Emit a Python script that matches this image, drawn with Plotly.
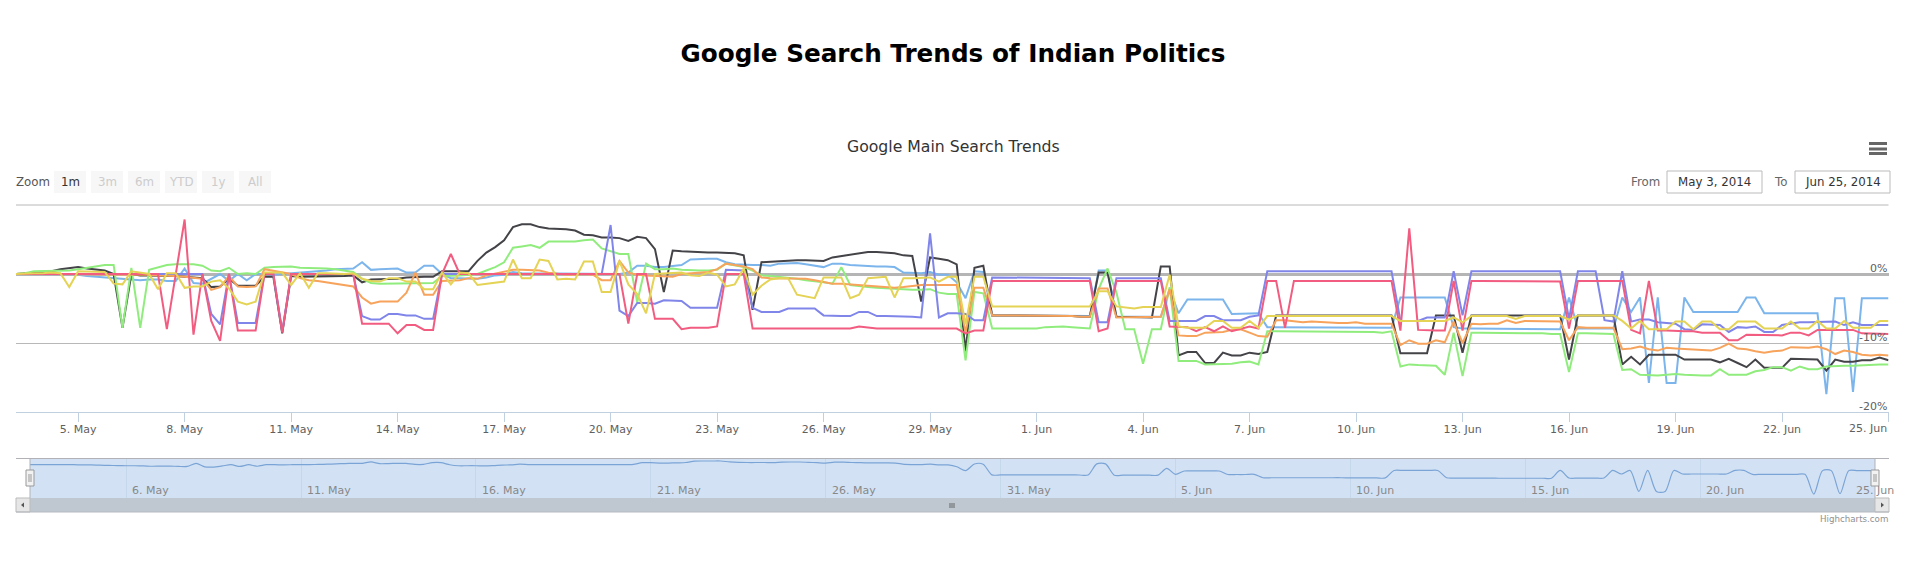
import pandas as pd
import plotly.graph_objects as go

W = 1906
H = 564
FONT = "DejaVu Sans"

dates = pd.date_range("2014-05-03 06:00", "2014-06-25 00:00", freq="6h")

# values are % change, one point every 6 hours
light_blue = [
    0, 0, 0, 0, 0, 0, -0.1, -0.1, -0.3, -0.4,
    -0.5, -0.6, -0.6, -0.7, -0.9, -0.8, -0.8, -1, -1, 0.8,
    -1.3, -1.4, -0.7, 0, -1, 0, -0.9, 0, 0, -0.1,
    0, 0.1, 0.1, 0.2, 0.3, 0.5, 0.7, 0.8, 0.8, 1.7,
    0.6, 0.7, 0.8, 0.8, 0.2, 0.2, 1.2, 1.2, 0, -0.6,
    -0.6, -0.6, -0.7, -0.5, -0.2, -0.1, 0.3, 0.1, 0.1, 0.1,
    0.1, 0.1, 0.1, 0.1, 0.1, 0.1, 0.1, 0.1, 0, 0.2,
    1.2, 1.2, 1, 1, 1.1, 1.3, 2.1, 2.2, 2.2, 2.2,
    1.7, 1.4, 1.3, 1.3, 1.3, 1.2, 1.5, 1.6, 1.6, 1.4,
    1.2, 1, 1.5, 1.5, 1.3, 1.2, 1.1, 1.1, 1.1, 1,
    0.2, 0.1, 0.1, 0.3, -0.1, -0.1, -1.2, -3.5, 0.4, 0.3,
    -6, -6, -6, -6, -6, -6, -6, -6, -6, -6,
    -6.1, -6.1, 0.5, 0.5, -6.2, -6.2, -6.2, -6.2, -6.2, -6.2,
    -2.2, -5.7, -3.7, -3.7, -3.7, -3.7, -3.7, -5.8, -5.8, -5.8,
    -5.7, -7.7, -7.7, -7.7, -7.7, -7.7, -7.7, -7.7, -7.7, -7.7,
    -7.7, -7.8, -7.8, -7.8, -7.8, -7.8, -3.4, -3.4, -3.4, -3.4,
    -3.4, -3.4, -7.7, -7.9, -7.9, -7.9, -7.9, -7.9, -8, -8,
    -8, -8, -8, -8, -8, -3.4, -7.9, -7.9, -7.9, -7.9,
    -7.9, -3.4, -5.5, -3.4, -15.8, -3.4, -15.8, -15.8, -3.4, -5.5,
    -5.5, -5.5, -5.5, -5.5, -5.5, -3.4, -3.4, -5.7, -5.7, -5.7,
    -5.7, -5.7, -5.7, -5.7, -17.4, -3.5, -3.5, -17.1, -3.5, -3.5,
    -3.5, -3.5,
]

black = [
    0, 0.1, 0.3, 0.4, 0.4, 0.7, 0.8, 1, 0.8, 0.6,
    0.5, 0, -7.8, 0, -0.2, -0.2, -0.3, -0.3, -0.3, -0.4,
    -0.5, -0.6, -1.9, -1.8, -0.7, -1.7, -1.7, -1.7, -0.4, -0.4,
    -8.6, -0.3, -0.4, -0.4, -0.4, -0.4, -0.4, -0.3, -0.2, -1.2,
    -0.8, -0.8, -0.8, -0.7, -0.5, -0.4, -0.4, -0.4, 0.4, 0.4,
    0.4, 0.4, 1.9, 3.1, 3.9, 4.9, 6.8, 7.2, 7.2, 6.8,
    6.6, 6.6, 6.5, 6.3, 5.7, 5.6, 5.3, 5.3, 5.2, 4.8,
    5.4, 5.2, 3.6, -2.6, 3.4, 3.3, 3.2, 3.2, 3.1, 3.1,
    3.1, 3, 2.7, -5.2, 1.7, 1.8, 1.9, 1.9, 2, 2,
    2, 1.9, 2.4, 2.6, 2.8, 3, 3.2, 3.2, 3.1, 3,
    2.7, 2.6, -4, 2.4, 2.2, 2, 1.4, -11.2, 0.9, 1.2,
    -6, -6, -6, -6, -6, -6, -6.1, -6.1, -6.1, -6.1,
    -6.2, -6.2, 0.2, 0.2, -6.2, -6.2, -6.2, -6.3, -6.3, 1.1,
    1.1, -11.8, -11.3, -11.3, -12.9, -12.9, -11.4, -11.8, -11.8, -11.4,
    -11.6, -11.3, -6, -6, -6, -6, -6, -6, -6, -6,
    -6, -6, -6, -6, -6, -6, -11.5, -11.5, -11.5, -11.5,
    -6, -6, -6, -11.4, -6, -6, -6, -6, -6, -6,
    -6, -6, -6, -6, -6, -12.4, -6, -6, -6, -6,
    -6, -13.1, -12, -13.1, -11.7, -11.7, -11.7, -11.7, -12.4, -12.4,
    -12.4, -12.4, -12.8, -12.3, -12.9, -13.5, -12.4, -13.6, -13.6, -13.6,
    -12.3, -12.3, -12.3, -12.4, -14, -12.4, -12.7, -12.7, -12.5, -12.5,
    -12.1, -12.5,
]

green = [
    0, 0.1, 0.4, 0.4, 0.4, 0.4, 0.5, 0.7, 0.9, 1.1,
    1.3, 1.3, -7.8, 0.9, -7.8, 0.6, 1, 1.3, 1.4, 1.4,
    1.4, 1.2, 0.5, 0.4, 0.9, 0, 0.1, 0, 0.9, 1,
    1.1, 1.1, 0.9, 0.9, 0.8, 0.8, 0.7, 0.5, 0.3, -0.7,
    -1.3, -1.4, -1.4, -1.4, -1.3, -1.3, -1.3, -1.3, -0.3, -0.3,
    -0.2, -0.1, 0, 0.5, 1, 1.7, 3.8, 4, 4.2, 3.8,
    4.7, 4.7, 4.7, 4.7, 4.9, 5, 3.7, 3.3, 2.9, 2.9,
    -4.1, 1.5, 0.7, 0.7, 0.8, 0.6, 0.5, 0.5, 0.5, 0.6,
    1.5, 1.3, 1, 0.5, -0.2, -0.3, -0.4, -0.5, -0.7, -0.9,
    -1, -1.2, -1.4, 1, -1.6, -1.8, -1.9, -2, -2.1, -2.2,
    -2.2, -2.3, -2.3, -2.2, -2.7, -2.9, -2.9, -12.5, -2.6, -2.8,
    -7.9, -7.9, -7.9, -7.9, -7.9, -7.9, -7.7, -7.6, -7.6, -7.7,
    -7.8, -7.9, -2.2, 0.8, -2.7, -8, -8, -13, -8, -8,
    -1.9, -12.6, -12.6, -12.6, -13.1, -13.1, -13.1, -13, -12.8, -12.7,
    -13.1, -8.3, -8.3, -8.3, -8.3, -8.3, -8.3, -8.4, -8.4, -8.4,
    -8.4, -8.4, -8.4, -8.4, -8.5, -8.3, -13.4, -13.1, -13.2, -13.3,
    -13.3, -14.6, -8.5, -14.8, -8.5, -8.5, -8.5, -8.5, -8.6, -8.6,
    -8.6, -8.6, -8.6, -8.7, -8.7, -14.2, -8.6, -8.6, -8.6, -8.6,
    -8.7, -13.9, -13.8, -14.6, -14.7, -14.7, -14.6, -14.5, -14.6, -14.7,
    -14.7, -14.7, -13.8, -14.6, -14.6, -14.6, -14.1, -13.9, -13.5, -13.5,
    -14, -13.4, -13.8, -13.8, -13.4, -13.3, -13.3, -13.3, -13.2, -13.1,
    -13.1, -13.1,
]

orange = [
    0, 0, 0, 0, 0, 0, 0, -0.1, -0.1, -0.1,
    -0.1, -0.1, -0.1, -0.1, -0.1, -0.1, -0.2, -0.2, -0.3, -0.4,
    -0.6, -0.7, -2.3, -1.9, -0.3, -1.8, -1.9, -1.8, 0.7, 0.5,
    0.2, 0, -0.6, -0.9, -1, -1.2, -1.4, -1.5, -1.8, -3.4,
    -4.3, -4, -4, -4, -2.7, 0.2, -3, -3, -1, -1,
    -0.9, -0.6, -0.7, -0.2, 0.1, 0.4, 0.6, 0.6, 0.6, 0.5,
    0.2, 0, -0.1, -0.1, 0, -0.1, -0.9, -0.9, 1.9, 0.2,
    -0.1, -0.2, -0.3, -0.4, -0.4, 0, 0.1, 0.1, 0.3, 0.7,
    1.5, 1.3, 1.1, 0.7, -0.5, -0.6, -0.6, -0.6, -0.6, -0.7,
    -0.9, -1.1, -1.4, -1.4, -1.5, -1.6, -1.8, -1.9, -1.9, -2,
    -1.9, -1.7, -1.6, -1.6, -1.6, -1.6, -1.6, -8.5, -2, -2,
    -6, -6, -6, -6, -6, -6, -6, -6, -6, -6.1,
    -6.2, -6.2, -2.1, -2.1, -6.3, -6.3, -6.3, -6.3, -6.2, -6.2,
    -2.2, -8.9, -9, -9, -8.5, -8.5, -8.4, -8.1, -8, -8.5,
    -9, -9.1, -6.7, -6.7, -6.9, -7, -6.9, -7, -7, -7.1,
    -7.1, -7, -7.2, -7.2, -7.2, -7.2, -10.3, -9.6, -10.1, -10.1,
    -9.6, -9.9, -6.9, -10, -7.2, -7.3, -7.2, -7.2, -6.7, -7.1,
    -6.8, -6.8, -6.8, -6.9, -6.9, -9.6, -7.7, -7.8, -7.8, -7.8,
    -7.8, -10.9, -10.8, -10.5, -10.9, -11.1, -10.7, -10.8, -10.9, -11,
    -11.1, -11.1, -10.7, -10.1, -10.8, -10.9, -11.2, -11.4, -11.2, -11.1,
    -10.6, -10.7, -10.7, -10.5, -10.9, -11.6, -11.1, -11.3, -11.7, -11.8,
    -11.7, -11.8,
]

purple = [
    0, 0, 0, 0, 0, 0, 0, 0, 0, 0,
    0, 0, 0, 0, 0, 0, 0, 0, 0, 0,
    0, 0, -5.8, -7.3, 0, -7.1, -7.1, -7.1, 0, 0,
    -8.4, 0, 0, 0, 0, 0, 0, 0, 0, -6.1,
    -6.6, -6.6, -5.8, -5.8, -6, -6, -6.5, -6.5, 0, 0,
    0, 0, 0, 0, 0, 0, 0, 0, 0, 0,
    0, 0, 0, 0, 0, 0, 0, 7.1, -5.3, -6.1,
    -4.2, -4.2, -4.3, -3.8, -3.8, -3.9, -4.9, -4.9, -4.9, -4.9,
    0.6, 0.6, 0.5, -4.9, -5.5, -5.5, -5.5, -5, -5, -5,
    -5, -6, -6.1, -6.1, -6.1, -5.5, -5.5, -6.1, -6.1, -6.1,
    -6.2, -6.2, -6.3, 5.9, -6.3, -5.7, -5.7, -5.8, -6.7, -6.7,
    -0.5, -0.5, -0.5, -0.5, -0.5, -0.5, -0.5, -0.6, -0.6, -0.6,
    -0.6, -0.6, -7, -7, -0.6, -0.6, -0.6, -0.6, -0.6, -0.6,
    -6.8, -6.8, -6.8, -6.8, -6.1, -6.1, -6.7, -6.7, -6.7, -6.2,
    -6, 0.4, 0.4, 0.4, 0.4, 0.4, 0.4, 0.4, 0.4, 0.4,
    0.4, 0.4, 0.4, 0.4, 0.4, 0.4, -6.8, -6.8, -6.8, -6.3,
    -6.3, -6.3, 0.4, -6, 0.4, 0.4, 0.4, 0.4, 0.4, 0.4,
    0.4, 0.4, 0.4, 0.4, 0.4, -6.5, 0.4, 0.4, 0.4, -6.7,
    -6.9, 0.4, -6.9, -6.6, -6.6, -7, -7.1, -7.2, -8, -8.1,
    -7.3, -7.3, -7.4, -8.4, -7.7, -7.8, -7.6, -8.4, -8.4, -7.4,
    -7.2, -7, -7, -7, -7, -6.9, -7.4, -7, -7.4, -7.4,
    -7.4, -7.4,
]

pink = [
    0, 0, 0, 0, 0, 0, 0, 0, 0, 0,
    0, 0, 0, 0, 0, 0, 0, -8, 0, 7.9,
    -8.8, 0, -6.8, -9.7, 0, -8.2, -8.2, -8.2, 0, 0,
    -8.5, 0, 0, 0, 0, 0, 0, 0, 0, -7.2,
    -7.2, -7.2, -7.2, -8.6, -7.4, -7.4, -8.1, -8.1, 0, 2.9,
    0, 0, 0, 0, 0, 0, 0, 0, 0, 0,
    0, 0, 0, 0, 0, 0, 0, 0, 0, -7.2,
    0, 0, -6.5, -6.5, -6.5, -8, -7.8, -7.8, -7.8, -7.6,
    0, 0, 0, -7.9, -7.9, -7.9, -7.9, -7.8, -7.8, -7.8,
    -7.8, -7.9, -7.9, -7.9, -7.9, -7.6, -7.8, -7.9, -7.9, -7.9,
    -7.9, -7.9, -7.9, -7.9, -7.9, -7.9, -7.9, -8.6, -8.2, -8.2,
    -1, -1, -1, -1, -1, -1, -1, -1, -1, -1,
    -1, -1, -8.3, -7.9, -1, -1, -1, -1, -1, -1,
    -7.6, -7.7, -7.7, -8.3, -7.7, -8.3, -7.6, -8.3, -7.9, -7.6,
    -7.9, -1, -1, -7.8, -1, -1, -1, -1, -1, -1,
    -1, -1, -1, -1, -1, -1, -8.2, 6.6, -8.1, -8.2,
    -8.2, -8.2, -1, -8.2, -1, -1, -1, -1, -1, -1,
    -1, -1, -1, -1, -1.1, -7.9, -1, -1, -1, -1,
    -1, -1, -8.1, -8.6, -1, -8.2, -8.2, -8.3, -8.3, -8.3,
    -8.5, -8.5, -8.5, -9.6, -9.6, -8.8, -8.8, -8.9, -8.9, -8.9,
    -8.5, -8.5, -8.9, -8.1, -8.1, -8.1, -8, -8.1, -8.6, -8.6,
    -8.7, -8.7,
]

yellow = [
    0, 0.1, 0.1, 0.1, 0.2, 0.1, -1.9, 0.4, 0.4, 0.4,
    0.3, -1.4, -1.5, 0.4, 0.2, 0, -2.2, 0.1, 0.1, -2,
    -1.8, -1.8, -1.1, -0.9, -2.1, -4, -4.4, -4, 0.2, 0.2,
    0.2, -1.6, 0.1, -2, 0.1, 0.1, 0, 0, 0.1, -0.7,
    -1, -1.1, -0.6, -0.6, -1.1, -1.1, -2.2, -2.2, 0.2, -1.5,
    0.2, 0.1, -1.6, -1.4, -1.3, -1.1, 2.1, -0.6, -0.6, 2.1,
    1.9, -0.8, -0.7, -0.8, 1.8, 1.8, -2.6, -2.6, 1.9, -1.5,
    -2.9, -5.7, 0, 0.1, 0.1, 0.2, -0.2, -0.3, 0.2, -0.1,
    -1.8, -1.5, 0.8, -3, -1.7, -0.8, -0.6, -0.6, -3, -3.3,
    -3.5, -0.5, -0.5, -0.5, -3.5, -3, -0.6, -0.5, -0.4, -3.4,
    -0.6, -0.6, -0.6, -0.5, -1.1, -0.4, -0.4, -7.3, -0.4, -0.4,
    -4.7, -4.7, -4.7, -4.7, -4.7, -4.7, -4.7, -4.7, -4.7, -4.7,
    -4.7, -4.7, -2.5, -2.5, -4.7, -4.9, -5, -4.8, -4.8, -4.8,
    -0.1, -7.6, -7.8, -7.8, -7.8, -6.8, -6.8, -7.8, -7.8, -6.8,
    -7.8, -6.1, -6.1, -6.1, -6.1, -6.1, -6.1, -6.1, -6.1, -6.1,
    -6.1, -6.1, -6.1, -6.1, -6.1, -6.1, -6.8, -6.8, -6.8, -6.8,
    -6.8, -6.8, -6.3, -7, -6.1, -6.1, -6.1, -6.1, -6.1, -6.5,
    -6.1, -6.1, -6.1, -6.1, -6.1, -6.6, -6, -6, -6, -6,
    -6, -6.8, -7.9, -6.8, -8, -8, -8, -6.9, -6.9, -8,
    -6.9, -6.9, -8, -8, -6.9, -6.9, -6.9, -7.9, -7.9, -7.9,
    -6.9, -7.9, -7.9, -6.8, -7.9, -7.9, -6.8, -7.8, -7.8, -7.8,
    -6.8, -6.8,
]

series = [
    (light_blue, "#7cb5ec"),
    (black, "#434348"),
    (green, "#90ed7d"),
    (orange, "#f7a35c"),
    (purple, "#8085e9"),
    (pink, "#f15c80"),
    (yellow, "#e4d354"),
]

tick_dates = ["2014-05-05", "2014-05-08", "2014-05-11", "2014-05-14", "2014-05-17", "2014-05-20",
              "2014-05-23", "2014-05-26", "2014-05-29", "2014-06-01", "2014-06-04", "2014-06-07",
              "2014-06-10", "2014-06-13", "2014-06-16", "2014-06-19", "2014-06-22", "2014-06-25"]
tick_labels = ["5. May", "8. May", "11. May", "14. May", "17. May", "20. May",
               "23. May", "26. May", "29. May", "1. Jun", "4. Jun", "7. Jun",
               "10. Jun", "13. Jun", "16. Jun", "19. Jun", "22. Jun", ""]

nav_dates = ["2014-05-06", "2014-05-11", "2014-05-16", "2014-05-21", "2014-05-26", "2014-05-31",
             "2014-06-05", "2014-06-10", "2014-06-15", "2014-06-20", "2014-06-25"]
nav_labels = ["6. May", "11. May", "16. May", "21. May", "26. May", "31. May",
              "5. Jun", "10. Jun", "15. Jun", "20. Jun", "25. Jun"]

y_ticks = [-20, -10, 0, 10]
y_labels = ["-20%", "-10%", "0%"]
zoom_buttons = ["1m", "3m", "6m", "YTD", "1y", "All"]


def px(x):
    return x / W


def py(y):
    return 1 - y / H


def box(x0, y0, x1, y1, fill, line=None, width=1, layer="above"):
    return dict(type="rect", xref="paper", yref="paper", x0=px(x0), x1=px(x1), y0=py(y0), y1=py(y1),
                fillcolor=fill, line=dict(color=line or fill, width=width if line else 0), layer=layer)


def seg(x0, y0, x1, y1, color, width=1, layer="above"):
    return dict(type="line", xref="paper", yref="paper", x0=px(x0), x1=px(x1), y0=py(y0), y1=py(y1),
                line=dict(color=color, width=width), layer=layer)


def label(x, y, text, size=11, color="#666666", anchor="center"):
    return dict(xref="paper", yref="paper", x=px(x), y=py(y), text=text, showarrow=False,
                xanchor=anchor, yanchor="middle", font=dict(family=FONT, size=size, color=color))


fig = go.Figure()
for values, color in series:
    fig.add_trace(go.Scatter(x=dates, y=values, mode="lines", xaxis="x", yaxis="y",
                             line=dict(color=color, width=2), hoverinfo="skip"))

# navigator
fig.add_trace(go.Scatter(x=dates, y=light_blue, mode="lines", xaxis="x2", yaxis="y2",
                         line=dict(color="#7ba4d6", width=1.2, shape="spline", smoothing=0.8), hoverinfo="skip"))

shapes = [
    seg(16, 205, 1888.5, 205, "#b8b8b8", layer="below"),
    box(30, 458.5, 1875, 498, "#d2e2f4", layer="below"),
    box(30, 498, 1875, 512, "#bfc8d1"),
    box(16, 498, 30, 512, "#e6e6e6", "#bbbbbb"),
    box(1875, 498, 1889, 512, "#e6e6e6", "#bbbbbb"),
    seg(16, 512, 1889, 512, "#b5bac0"),
    seg(16, 458.5, 1889, 458.5, "#b2b1b6"),
    seg(30, 458.5, 30, 498, "#b2b1b6"),
    seg(1875, 458.5, 1875, 498, "#b2b1b6"),
    box(26, 470, 34, 486, "#f2f2f2", "#999999"),
    box(1871, 470, 1879, 486, "#f2f2f2", "#999999"),
    seg(29, 474, 29, 482, "#999999"),
    seg(31, 474, 31, 482, "#999999"),
    seg(1874, 474, 1874, 482, "#999999"),
    seg(1876, 474, 1876, 482, "#999999"),
    seg(950, 503, 950, 508, "#666666"),
    seg(952, 503, 952, 508, "#666666"),
    seg(954, 503, 954, 508, "#666666"),
    dict(type="path", xref="paper", yref="paper", layer="above", fillcolor="#555555", line=dict(width=0),
         path=f"M {px(21)} {py(505)} L {px(24)} {py(502.5)} L {px(24)} {py(507.5)} Z"),
    dict(type="path", xref="paper", yref="paper", layer="above", fillcolor="#555555", line=dict(width=0),
         path=f"M {px(1884)} {py(505)} L {px(1881)} {py(502.5)} L {px(1881)} {py(507.5)} Z"),
    # date inputs
    box(1667, 171, 1762, 193, "#ffffff", "#bbbbbb"),
    box(1795, 171, 1890, 193, "#ffffff", "#bbbbbb"),
    # menu icon
    box(1869, 142, 1887, 145, "#666666"),
    box(1869, 147.5, 1887, 150.5, "#666666"),
    box(1869, 152, 1887, 155, "#666666"),
]

annotations = [
    label(953, 146, "Google Main Search Trends", size=15.7, color="#333333"),
    label(14, 182, "Zoom", size=11.8, color="#555555", anchor="left"),
    label(1645, 182, "From", size=11.8, color="#666666"),
    label(1714.5, 182, "May 3, 2014", size=11.8, color="#333333"),
    label(1780, 182, "To", size=11.8, color="#666666"),
    label(1842.5, 182, "Jun 25, 2014", size=11.8, color="#333333"),
    label(1890, 519, "Highcharts.com", size=8.7, color="#909090", anchor="right"),
    label(1889, 428, "25. Jun", size=11, color="#606060", anchor="right"),
]

for i, name in enumerate(zoom_buttons):
    x0 = 54 + 37 * i
    shapes.append(box(x0, 171, x0 + 32, 193, "#f7f7f7"))
    annotations.append(label(x0 + 16, 182, name, size=11.8, color="#333333" if i == 0 else "#cccccc"))

for text, val in zip(y_labels, y_ticks):
    annotations.append(dict(xref="paper", yref="y", x=px(1889), y=val, yshift=6, text=text, showarrow=False,
                            xanchor="right", yanchor="middle", font=dict(family=FONT, size=11, color="#606060")))

# last navigator label sits left of its gridline so it stays on the page
for day, text in zip(nav_dates[:-1], nav_labels[:-1]):
    annotations.append(dict(xref="x2", yref="paper", x=day, y=py(490), xshift=4, text=text, showarrow=False,
                            xanchor="left", yanchor="middle", font=dict(family=FONT, size=11, color="#888888")))
annotations.append(label(1896, 490, nav_labels[-1], size=11, color="#888888", anchor="right"))

fig.update_layout(
    width=W,
    height=H,
    margin=dict(l=0, r=0, t=0, b=0),
    paper_bgcolor="#ffffff",
    plot_bgcolor="rgba(0,0,0,0)",
    showlegend=False,
    title=dict(text="<b>Google Search Trends of Indian Politics</b>", x=0.5, xanchor="center",
               y=py(53), yanchor="middle", font=dict(family=FONT, size=24.7, color="#000000")),
    xaxis=dict(domain=[px(16), px(1888.5)], range=[dates[0], dates[-1]], tickmode="array",
               tickvals=tick_dates, ticktext=tick_labels, ticks="outside", ticklen=9, tickcolor="#C0D0E0",
               showline=True, linecolor="#C0D0E0", linewidth=1, showgrid=False, zeroline=False,
               ticklabelstandoff=-2, tickangle=0, tickfont=dict(family=FONT, size=11, color="#606060"),
               anchor="y"),
    yaxis=dict(domain=[py(412), py(205)], range=[-20, 10], tickmode="array", tickvals=y_ticks,
               showticklabels=False, showgrid=True, gridcolor="#b8b8b8", gridwidth=1,
               zeroline=True, zerolinecolor="#b5b5b5", zerolinewidth=2.5, anchor="x"),
    xaxis2=dict(domain=[px(30), px(1875)], range=[dates[0], dates[-1]], tickmode="array",
                tickvals=nav_dates, showticklabels=False, ticks="", showgrid=True, gridcolor="#c5d7ea",
                gridwidth=1, zeroline=False, anchor="y2"),
    yaxis2=dict(domain=[py(498), py(458.5)], range=[-19.7, 3.68], showticklabels=False, showgrid=False,
                zeroline=False, anchor="x2"),
    shapes=shapes,
    annotations=annotations,
)

# the page default body margin would push the figure off by 8px
fig.write_html("out.html", config={"displayModeBar": False},
               post_script="document.body.style.margin='0';document.body.style.overflow='hidden';")
